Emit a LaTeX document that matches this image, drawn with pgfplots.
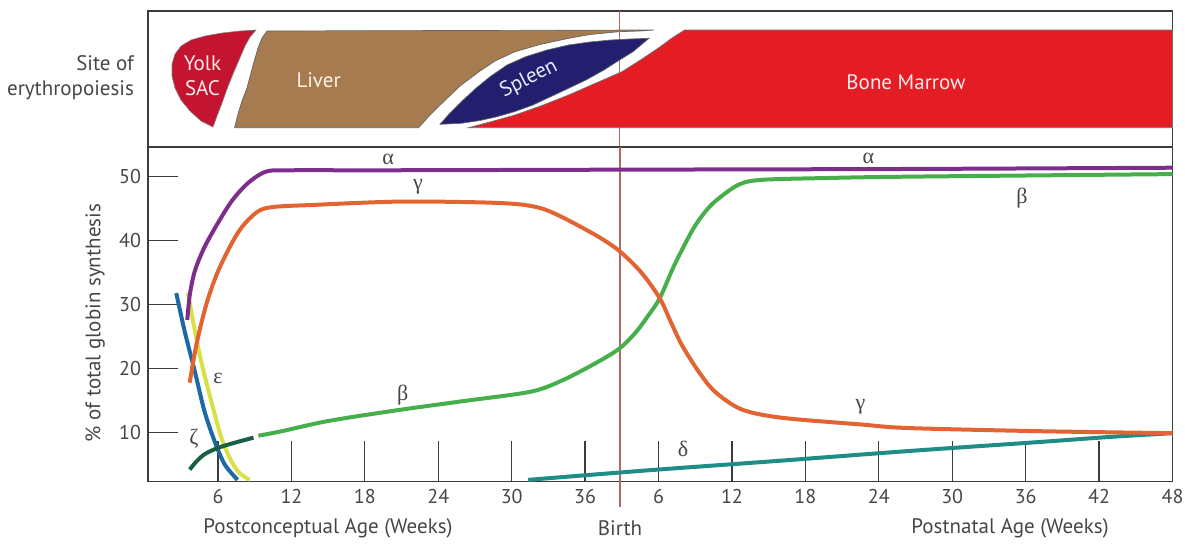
\documentclass[border=0pt]{standalone}
\usepackage{pgfplots}
\pgfplotsset{compat=1.18}
\usepackage{fontspec}
\setmainfont{PT Sans}
\newfontfamily\grk{Liberation Serif}
\definecolor{framec}{RGB}{60,60,60}
\definecolor{labc}{RGB}{70,70,70}
\definecolor{birthc}{RGB}{175,105,95}
\definecolor{alphac}{RGB}{125,45,140}
\definecolor{gammac}{RGB}{225,100,50}
\definecolor{betac}{RGB}{70,175,75}
\definecolor{betadk}{RGB}{25,95,65}
\definecolor{zetac}{RGB}{30,105,165}
\definecolor{epsc}{RGB}{215,225,70}
\definecolor{deltac}{RGB}{30,140,135}
\definecolor{yolkc}{RGB}{196,20,48}
\definecolor{liverc}{RGB}{166,123,80}
\definecolor{spleenc}{RGB}{35,30,110}
\definecolor{marrowc}{RGB}{228,28,36}
\begin{document}
\begin{tikzpicture}
\pgfplotsset{every tick label/.append style={font=\fontsize{10}{12}\selectfont, text=labc}}
% ---------- top panel: site of erythropoiesis ----------
\begin{axis}[at={(74pt,198.15pt)}, anchor=south west, scale only axis,
  width=512.25pt, height=67.85pt,
  xmin=148, xmax=1172.5, ymin=11, ymax=146.7, y dir=reverse,
  xtick=\empty, ytick=\empty, clip=false,
  axis line style={draw=framec, line width=0.7pt}]
\addplot[birthc, line width=0.7pt] coordinates {(619.6,11) (619.6,146.7)};
\addplot[fill=yolkc, draw=black!50, line width=0.3pt] coordinates {
(256,30) (240,31) (222,33) (205,36) (191,40) (181,46) (175,54) (172,64) (172,76) (175,88) (181,100) (190,111) (201,121) (213,127) (217,116) (222,103) (227,89) (233,74) (239,60) (245,46) (250,37) (256,30)} -- cycle;
\addplot[fill=liverc, draw=black!60, line width=0.35pt] coordinates {
(267,31) (654,30) (640,31) (618.6,31.7) (590,34.5) (568.6,38.3) (540,44.5) (515,51.7) (495,61) (479,71.7) (460,86) (443.6,101.7) (430,115) (418.6,127.7) (234.6,127.7) (238,114) (242,101) (247,88) (252,69) (258,48) (262,38) (267,31)} -- cycle;
\addplot[fill=spleenc, draw=black!60, line width=0.35pt] coordinates {
(440,124.3) (450,113) (461.4,101.7) (475,89) (490,76.7) (507,65) (525.7,56.7) (547,50) (568.6,45) (590,42) (611,40) (630,39) (649,38.3) (633,51.7) (618,61) (604,70) (586,80) (568.6,88.3) (550,97) (533,105) (515,111.5) (497,116.7) (480,120.5) (461,123.3) (440,124.3)} -- cycle;
\addplot[fill=marrowc, draw=black!55, line width=0.35pt] coordinates {
(468.6,127.7) (490,122) (515,115) (542,105.5) (568.6,95) (596,83) (622,71.7) (642,59) (658,48.3) (672,38) (684.6,30) (1172.5,30) (1172.5,127.7) (468.6,127.7)} -- cycle;
\node[text=red!8, align=center, font=\fontsize{10.5}{12.5}\selectfont] at (axis cs:202.5,75.5) {Yolk\\SAC};
\node[text=orange!10, font=\fontsize{10.5}{12.5}\selectfont] at (axis cs:318.6,80) {Liver};
\node[text=white!92!blue, rotate=27, inner sep=0pt, font=\fontsize{10.5}{12.5}\selectfont] at (axis cs:529,79) {Spleen};
\node[text=red!8, font=\fontsize{10.5}{12.5}\selectfont] at (axis cs:906,82) {Bone Marrow};
\node[text=labc, anchor=east, align=right, font=\fontsize{10.5}{12.5}\selectfont] at (axis cs:141,77.5) {Site of\\erythropoiesis};
\end{axis}
% ---------- bottom panel: x tick marks only ----------
\begin{axis}[at={(74pt,30.65pt)}, anchor=south west, scale only axis,
  width=512.25pt, height=167.35pt,
  xmin=0.28, xmax=84, ymin=2.31, ymax=54.64,
  axis line style={draw=none}, tick align=inside,
  xtick={6,12,...,78}, xticklabels={}, ytick=\empty,
  xtick pos=bottom, major tick length=20.5pt,
  xtick style={draw=framec, line width=0.65pt}]
\end{axis}
% ---------- bottom panel: main ----------
\begin{axis}[at={(74pt,30.65pt)}, anchor=south west, scale only axis,
  width=512.25pt, height=167.35pt,
  xmin=0.28, xmax=84, ymin=2.31, ymax=54.64,
  clip=false,
  axis line style={draw=framec, line width=0.7pt}, tick align=inside,
  xtick={6,12,...,84}, xticklabels={6,12,18,24,30,36,6,12,18,24,30,36,42,48},
  xtick style={draw=none},
  ytick={10,20,30,40,50}, ytick pos=left, xtick pos=bottom,
  major tick length=15pt,
  ytick style={draw=framec, line width=0.65pt},
  /pgf/number format/assume math mode=true,
  every axis plot/.append style={line width=2pt, smooth}]
\addplot[birthc, line width=0.7pt, sharp plot] coordinates {(38.85,-1.65) (38.85,54.64)};
\addplot[deltac] coordinates {(31.35,2.6) (41.2,4.1) (52,5.6) (62.4,7.1) (73,8.5) (78.8,9.3) (84,9.9)};
\addplot[zetac] coordinates {(2.59,31.8) (3.28,25.8) (4.1,19.6) (4.9,13.3) (5.73,8.6) (6.55,5.0) (7.6,2.6)};
\addplot[epsc] coordinates {(3.55,31.8) (3.96,27.4) (4.63,21.1) (5.45,14.9) (6.27,9.2) (7.09,5.5) (7.8,3.6) (8.6,2.6)};
\addplot[betadk] coordinates {(3.69,4.2) (4.2,5.4) (4.9,6.6) (6,7.6) (7.36,8.4) (8.9,9.2)};
\addplot[betac] coordinates {(9.3,9.5) (11.2,10.2) (15,11.8) (20.7,13.5) (26,14.9) (31.6,16.4) (34.3,18.3) (37.1,21.1) (38.85,23.2) (40.2,25.8) (41.2,28.4) (42.1,31.0) (43.3,36.2) (44.7,41.4) (45.6,44.0) (46.6,46.1) (48.5,48.7) (50.4,49.5) (56,49.8) (62.4,50.0) (84,50.4)};
\addplot[gammac] coordinates {(3.69,17.8) (4.23,23.7) (5.04,30.0) (6,35.2) (7.36,40.4) (8.45,43.2) (9.95,45.1) (14,45.6) (20.7,46.1) (27,46.0) (30.5,45.7) (32.5,45.0) (34.3,43.5) (37.1,40.6) (38.85,38.3) (40.6,35.0) (42.1,31.0) (43.0,27.3) (43.9,23.7) (45.25,19.6) (46.6,16.4) (48.8,13.6) (52.1,12.3) (58.6,11.25) (62.4,10.7) (73.3,10.2) (84,9.9)};
\addplot[alphac] coordinates {(3.49,27.6) (3.7,31.6) (4.1,35.2) (4.8,38.6) (5.73,41.9) (7.09,46.1) (8.45,49.0) (9.95,50.8) (12,51.0) (20,51.0) (40,51.1) (62,51.2) (84,51.4)};
\begin{scope}[font=\grk\fontsize{11}{13}\selectfont, text=labc]
\node at (axis cs:19.9,52.7) {α};
\node at (axis cs:59.15,52.8) {α};
\node at (axis cs:22.35,48.4) {γ};
\node at (axis cs:21.1,15.9) {β};
\node at (axis cs:6.0,18.5) {ε};
\node at (axis cs:4.04,9.1) {ζ};
\node at (axis cs:44.0,7.5) {δ};
\node at (axis cs:58.5,14.0) {γ};
\node at (axis cs:71.7,46.6) {β};
\end{scope}
\end{axis}
\begin{scope}[font=\fontsize{10.5}{12.5}\selectfont, text=labc]
\node[rotate=90] at (47.5pt,110pt) {\% of total globin synthesis};
\node at (164pt,7.5pt) {Postconceptual Age (Weeks)};
\node at (310pt,7.5pt) {Birth};
\node at (505pt,7.5pt) {Postnatal Age (Weeks)};
\end{scope}
\pgfresetboundingbox
\path (0,0) rectangle (592.5pt,271.5pt);
\end{tikzpicture}
\end{document}
